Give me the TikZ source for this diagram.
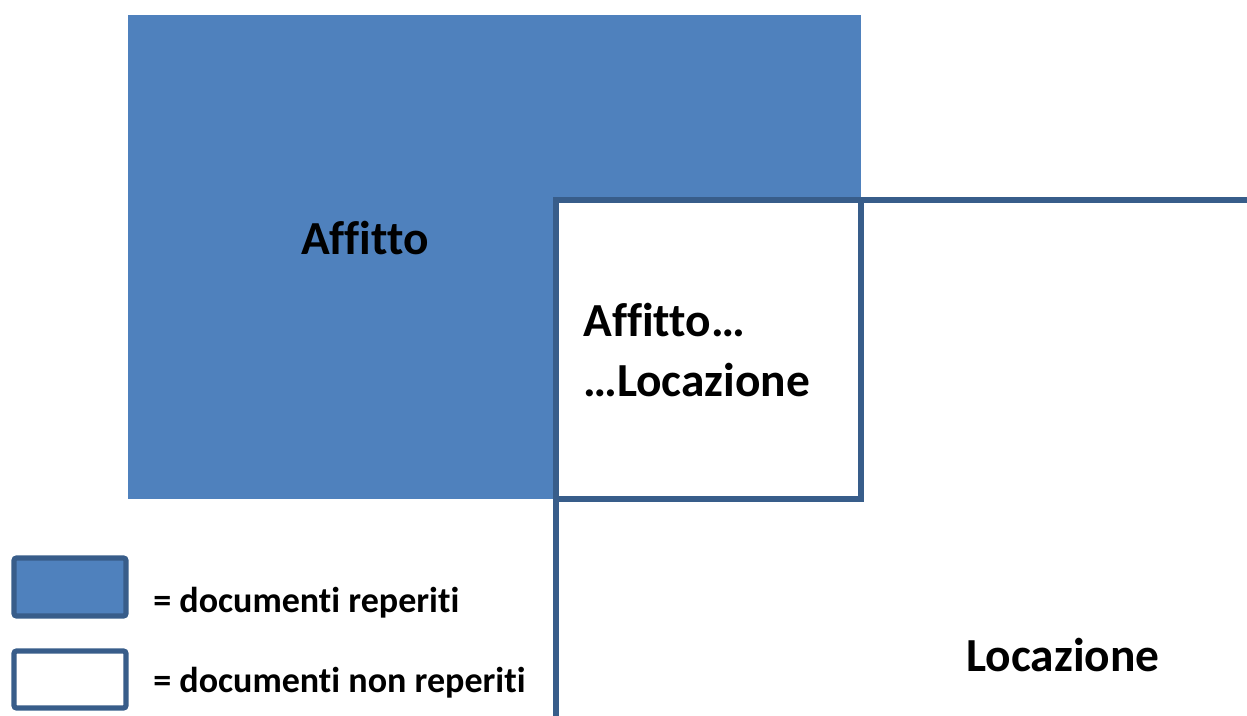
\documentclass[tikz,border=0pt]{standalone}
\usepackage{fontspec}
\setmainfont[Ligatures={NoCommon}]{Carlito}
\definecolor{docblue}{RGB}{79,129,189}
\definecolor{docedge}{RGB}{56,93,138}
\tikzset{
  found/.style={fill=docblue},
  notfound/.style={fill=white, draw=docedge, line width=3pt},
  keybox/.style={draw=docedge, line width=3pt, rounded corners=1.5pt},
  bigtext/.style={font=\fontsize{27}{34}\selectfont\bfseries, inner sep=0pt},
  keytext/.style={font=\fontsize{20.5}{24}\selectfont\bfseries, inner sep=0pt, anchor=west},
}

\begin{document}
\begin{tikzpicture}[x=0.02cm,y=-0.02cm]
  \useasboundingbox (0,0) rectangle (1247,716);
  \clip (0,0) rectangle (1247,716);

  % the two sets of documents
  \fill[found] (128,15) rectangle (861,499);
  \draw[notfound] (556,200) rectangle (1300,780);
  \draw[notfound] (556,200) rectangle (861,499);

  \node[bigtext] (affitto) at (365,238) {Affitto};
  \node[bigtext] (locazione) at (1063,655) {Locazione};
  \node[bigtext, anchor=west, align=left] (both) at (583,350) {Affitto…\\…Locazione};

  % legend
  \draw[keybox, fill=docblue] (14,558) rectangle (126,616);
  \draw[keybox, fill=white] (14,651) rectangle (126,708);
  \node[keytext] (keyfound) at (153,603) {= documenti reperiti};
  \node[keytext] (keynotfound) at (153,683) {= documenti non reperiti};
\end{tikzpicture}
\end{document}
